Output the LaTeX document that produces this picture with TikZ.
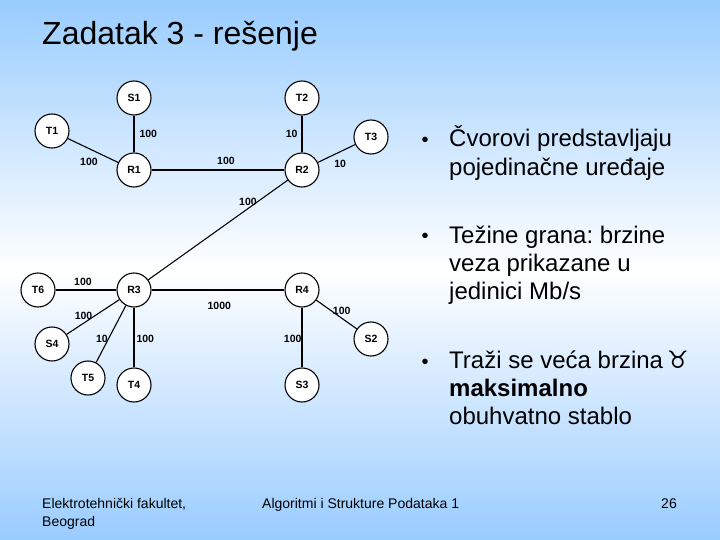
\documentclass[tikz,border=0pt]{standalone}
\usepackage{fontspec}
\setmainfont{Liberation Sans}
\newfontfamily\symfont{DejaVu Sans}
\usetikzlibrary{positioning}
\frenchspacing

\definecolor{slideblue}{RGB}{153,204,255}

\begin{document}
\begin{tikzpicture}[
    x=1pt, y=1pt,
    on grid,
    device/.style={circle, minimum size=34pt, inner sep=0pt, draw=black, line width=1.1pt, fill=white, font=\fontsize{10.5}{12}\selectfont\bfseries},
    link/.style={line width=1.1pt},
    weight/.style={font=\fontsize{10.5}{12}\selectfont\bfseries, inner sep=2pt},
    bullet/.style={anchor=base west, align=left, inner sep=0pt, font=\fontsize{24}{28.3}\selectfont},
    marker/.style={anchor=base, inner sep=0pt, font=\fontsize{20}{24}\selectfont},
    footer/.style={anchor=base west, align=left, inner sep=0pt, font=\fontsize{14}{18}\selectfont}
]

    % slide background
    \shade[top color=slideblue, bottom color=white] (0,0) rectangle (720,-270);
    \shade[top color=white, bottom color=slideblue] (0,-270) rectangle (720,-540);
    \useasboundingbox (0,0) rectangle (720,-540);

    \node[anchor=base west, inner sep=0pt, font=\fontsize{32}{38}\selectfont] (title) at (42,-45) {Zadatak 3 - rešenje};

    % devices
    \node[device] (R1) at (134,-170) {R1};
    \node[device, above=72pt of R1] (S1) {S1};
    \node[device, above left=39pt and 82pt of R1] (T1) {T1};
    \node[device, right=168pt of R1] (R2) {R2};
    \node[device, above=72pt of R2] (T2) {T2};
    \node[device, above right=33pt and 69pt of R2] (T3) {T3};
    \node[device, below=120pt of R1] (R3) {R3};
    \node[device, left=96pt of R3] (T6) {T6};
    \node[device, below left=54pt and 82pt of R3] (S4) {S4};
    \node[device, below left=88pt and 46pt of R3] (T5) {T5};
    \node[device, below=95pt of R3] (T4) {T4};
    \node[device, right=168pt of R3] (R4) {R4};
    \node[device, below=95pt of R4] (S3) {S3};
    \node[device, below right=49pt and 69pt of R4] (S2) {S2};

    % links with speeds
    \draw[link] (R1) -- node[weight, right=3pt, pos=.5] {100} (S1);
    \draw[link] (R1) -- node[weight, below=7pt, pos=.58] {100} (T1);
    \draw[link] (R1) -- node[weight, above=3pt, pos=.56] {100} (R2);
    \draw[link] (R2) -- node[weight, left=2pt, pos=.5] {10} (T2);
    \draw[link] (R2) -- node[weight, below=6pt, pos=.6] {10} (T3);
    \draw[link] (R2) -- node[weight, above, pos=.285] {100} (R3);
    \draw[link] (R3) -- node[weight, above=2pt, pos=.55] {100} (T6);
    \draw[link] (R3) -- node[weight, above=1pt, pos=.68] {100} (S4);
    \draw[link] (R3) -- node[weight, left, xshift=2pt, pos=.59] {10} (T5);
    \draw[link] (R3) -- node[weight, right, pos=.53] {100} (T4);
    \draw[link] (R3) -- node[weight, below=10pt, pos=.51] {1000} (R4);
    \draw[link] (R4) -- node[weight, left, xshift=2pt, pos=.53] {100} (S3);
    \draw[link] (R4) -- node[weight, above=1pt, pos=.63] {100} (S2);

    % bullet text (placed by the baseline of the last line)
    \node[marker] (m1) at (425,-147) {•};
    \node[bullet] (b1) at (449,-175.3) {Čvorovi predstavljaju\\pojedinačne uređaje};
    \node[marker] (m2) at (425,-243) {•};
    \node[bullet] (b2) at (449,-299.6) {Težine grana: brzine\\veza prikazane u\\jedinici Mb/s};
    \node[marker] (m3) at (425,-368) {•};
    \node[bullet] (b3) at (449,-424.6) {Traži se veća brzina\,{\symfont ♉}\\\textbf{maksimalno}\\obuhvatno stablo};

    % footer
    \node[footer] (inst) at (42,-526) {Elektrotehnički fakultet,\\Beograd};
    \node[footer] (course) at (262,-508) {Algoritmi i Strukture Podataka 1};
    \node[footer, anchor=base east] (page) at (677,-508) {26};

\end{tikzpicture}
\end{document}
